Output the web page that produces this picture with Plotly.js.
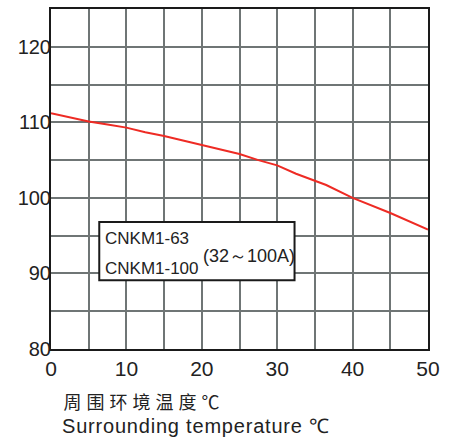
<!DOCTYPE html>
<html>
<head>
<meta charset="utf-8">
<script src="https://cdn.plot.ly/plotly-3.0.1.min.js"></script>
<style>
html,body{margin:0;padding:0;background:#fff;}
#chart{width:459px;height:437px;}
g.annotation[data-index="3"] text{letter-spacing:5px;}
g.annotation[data-index="4"] text{letter-spacing:0.8px;}
</style>
</head>
<body>
<div id="chart"></div>
<script>
// Data
const temperature = [0, 2.5, 5, 7.5, 10, 12.5, 15, 17.5, 20, 22.5, 25, 27.5, 30, 32.5, 35, 36.5, 40, 45, 50];
const currentPct  = [111.2, 110.6, 110.1, 109.7, 109.3, 108.7, 108.2, 107.6, 107.0, 106.5, 105.8, 105.0, 104.3, 103.2, 102.2, 101.7, 100.0, 98.0, 95.8];
const xTickVals = [0, 10, 20, 30, 40, 50];
const yTickVals = [80, 90, 100, 110, 120];
const legendLine1 = "CNKM1-63";
const legendLine2 = "CNKM1-100";
const legendRange = "(32～100A)";
const xTitleCn = "周围环境温度℃";
const xTitleEn = "Surrounding temperature ℃";

const gridColor = "#6f7575";
const font = "Liberation Sans, Arial, sans-serif";

const trace = {
  x: temperature, y: currentPct, type: "scatter", mode: "lines",
  line: {color: "#ee2b24", width: 2}, hoverinfo: "skip"
};

const layout = {
  width: 459, height: 437,
  margin: {l: 51, r: 31, t: 9, b: 88},
  paper_bgcolor: "#fff", plot_bgcolor: "#fff",
  showlegend: false,
  font: {family: font, color: "#222"},
  xaxis: {
    range: [0, 50], tickvals: xTickVals, ticks: "",
    showgrid: true, gridcolor: gridColor, gridwidth: 2,
    minor: {dtick: 5, showgrid: true, gridcolor: gridColor, gridwidth: 2},
    showline: true, linecolor: "#1a1a1a", linewidth: 2, mirror: true,
    zeroline: false, tickfont: {size: 21, family: font, color: "#222"}
  },
  yaxis: {
    range: [80, 125], tickvals: yTickVals, ticks: "",
    showgrid: true, gridcolor: gridColor, gridwidth: 2,
    minor: {dtick: 5, showgrid: true, gridcolor: gridColor, gridwidth: 2},
    showline: true, linecolor: "#1a1a1a", linewidth: 2, mirror: true,
    zeroline: false, tickfont: {size: 20, family: font, color: "#222"}, ticklabelstandoff: -6
  },
  shapes: [{
    type: "rect", xref: "x", yref: "y", x0: 6.4, x1: 32.3, y0: 89.1, y1: 96.8,
    line: {color: "#1a1a1a", width: 2}, fillcolor: "#fff", layer: "above"
  }],
  annotations: [
    {xref: "x", yref: "y", x: 6.9, y: 94.6, text: legendLine1, showarrow: false, xanchor: "left", yanchor: "middle", font: {size: 17, family: font, color: "#222"}},
    {xref: "x", yref: "y", x: 6.9, y: 90.6, text: legendLine2, showarrow: false, xanchor: "left", yanchor: "middle", font: {size: 17, family: font, color: "#222"}},
    {xref: "x", yref: "y", x: 19.9, y: 92.3, text: legendRange, showarrow: false, xanchor: "left", yanchor: "middle", font: {size: 18, family: font, color: "#222"}},
    {xref: "paper", yref: "paper", x: 0.075, y: -0.153, text: xTitleCn, showarrow: false, xanchor: "left", yanchor: "middle", font: {size: 18, family: "Noto Sans CJK SC, sans-serif", color: "#222"}},
    {xref: "paper", yref: "paper", x: 0.05, y: -0.226, text: xTitleEn, showarrow: false, xanchor: "left", yanchor: "middle", font: {size: 20, family: font, color: "#222"}}
  ]
};

Plotly.newPlot("chart", [trace], layout, {displayModeBar: false, staticPlot: true});
</script>
</body>
</html>
